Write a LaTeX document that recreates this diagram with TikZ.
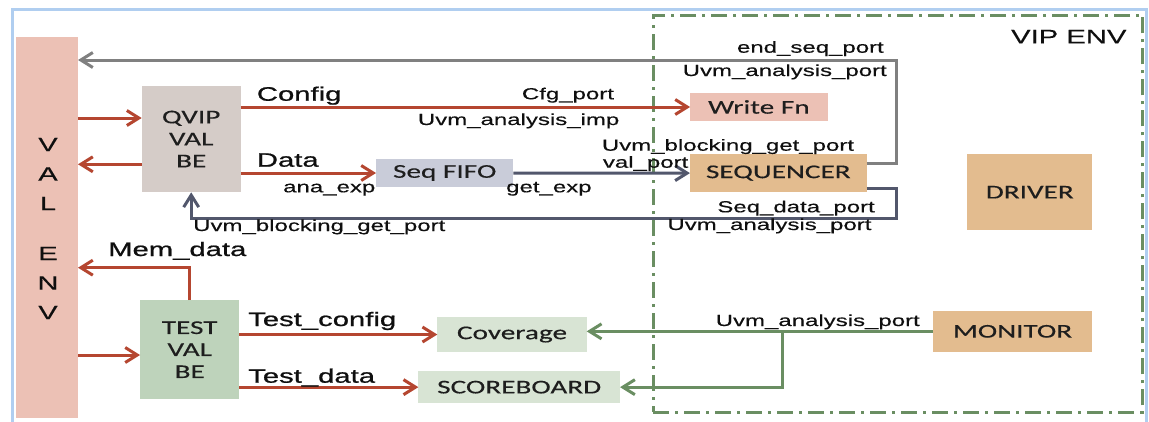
\documentclass[tikz,border=0pt]{standalone}
\usepackage{fontspec}
\setmainfont[FakeStretch=1.5,FakeBold=0.3]{Liberation Sans}
\newfontfamily\sigfont[FakeStretch=1.5,FakeBold=0.9]{Liberation Sans}
\newfontfamily\boxfont[FakeStretch=1.5,FakeBold=0.3]{Carlito}
\usetikzlibrary{arrows.meta,calc}

\definecolor{framecol}{RGB}{176,206,240}
\definecolor{valpink}{RGB}{236,193,181}
\definecolor{qvipcol}{RGB}{213,204,200}
\definecolor{testcol}{RGB}{190,211,187}
\definecolor{lightgrn}{RGB}{216,228,212}
\definecolor{fifocol}{RGB}{201,204,217}
\definecolor{tancol}{RGB}{227,188,143}
\definecolor{redw}{RGB}{181,70,48}
\definecolor{grayw}{RGB}{128,128,128}
\definecolor{slatew}{RGB}{82,87,108}
\definecolor{greenw}{RGB}{106,142,98}
\definecolor{txt}{RGB}{15,15,15}
\definecolor{boxtxt}{RGB}{30,30,30}

\begin{document}
\begin{tikzpicture}[x=1pt,y=-1pt,
  blk/.style={inner sep=0pt, outer sep=0pt, align=center, text=boxtxt,
              font=\boxfont\fontsize{19.5}{22}\selectfont},
  port/.style={inner sep=0pt, text=txt, font=\fontsize{16}{18}\selectfont},
  sig/.style={inner sep=0pt, text=txt, font=\sigfont\fontsize{19.5}{22}\selectfont},
  wire/.style={line width=3pt},
  arr/.style={-{Straight Barb[length=12pt,width=15pt]}}
]
\useasboundingbox (0,0) rectangle (1149,421);
\fill[white] (0,0) rectangle (1149,421);

% window frame
\draw[framecol, line width=3pt] (12,430) -- (12,9) -- (1146,9) -- (1146,430);

% VIP environment boundary
\node[draw=greenw, line width=3pt, dash pattern=on 16pt off 6pt on 3pt off 6pt,
      minimum width=489.4pt, minimum height=397pt, inner sep=0pt] (vip) at (898,213.5) {};
\node[port, font=\fontsize{19.5}{22}\selectfont, anchor=base east] (viplbl) at (1126.7,43.3) {VIP ENV};

% blocks
\node[blk, fill=valpink, minimum width=62pt, minimum height=381pt] (valenv) at (47,227.5) {};
\node[port, align=center, font=\fontsize{19.5}{29.5}\selectfont] (valtxt1) at (48,174) {V\\A\\L};
\node[port, align=center, font=\fontsize{19.5}{29.5}\selectfont] (valtxt2) at (48,283) {E\\N\\V};

\node[blk, fill=qvipcol, minimum width=99pt, minimum height=106.6pt] (qvip) at (191.2,139) {QVIP\\VAL\\BE};
\node[blk, fill=testcol, minimum width=99.3pt, minimum height=99.3pt] (test) at (189.7,349.65) {TEST\\VAL\\BE};
\node[blk, fill=fifocol, minimum width=137.3pt, minimum height=27.4pt] (fifo) at (444.7,173) {Seq FIFO};
\node[blk, fill=valpink, minimum width=137.7pt, minimum height=27.4pt] (wfn) at (758.9,107) {Write Fn};
\node[blk, fill=tancol, minimum width=176.7pt, minimum height=38.3pt] (seq) at (778.3,173.1) {SEQUENCER};
\node[blk, fill=tancol, minimum width=125pt, minimum height=75.7pt] (drv) at (1029.8,192.2) {DRIVER};
\node[blk, fill=tancol, minimum width=159.6pt, minimum height=40.7pt] (mon) at (1012.5,331.35) {MONITOR};
\node[blk, fill=lightgrn, minimum width=149.4pt, minimum height=34.4pt] (cov) at (512,334.5) {Coverage};
\node[blk, fill=lightgrn, minimum width=201.7pt, minimum height=32.3pt] (sb) at (519.2,387.15) {SCOREBOARD};

% helper points on block borders
\coordinate (qin)  at ([yshift=21pt]qvip.west);
\coordinate (qout) at ([yshift=-25.3pt]qvip.west);
\coordinate (tin)  at ([yshift=-5.35pt]test.west);
\coordinate (endy) at (0,60);
\coordinate (memy) at (0,267.7);
\coordinate (seqa) at ([yshift=9.8pt]seq.east);
\coordinate (seqb) at ([yshift=-15pt]seq.east);
\coordinate (br)   at ([xshift=-150.7pt]mon.west);

% red data paths
\draw[wire, redw, arr] (valenv.east |- qin) -- (qin);
\draw[wire, redw, arr] (qout) -- (valenv.east |- qout);
\draw[wire, redw, arr] (qvip.east |- wfn.west) -- (wfn.west);
\draw[wire, redw, arr] (qvip.east |- fifo.west) -- (fifo.west);
\draw[wire, redw, arr] (test.north) |- (valenv.east |- memy);
\draw[wire, redw, arr] (valenv.east |- tin) -- (tin);
\draw[wire, redw, arr] (test.east |- cov.west) -- (cov.west);
\draw[wire, redw, arr] (test.east |- sb.west) -- (sb.west);

% sequencer paths
\draw[wire, slatew, arr] (fifo.east) -- (seq.west);
\draw[wire, grayw, arr] (seqa) -- ++(30,0) |- (valenv.east |- endy);
\draw[wire, slatew, arr] (seqb) -- ++(30,0) -- ++(0,30) -| (qvip.south);

% monitor paths
\draw[wire, greenw, arr] (mon.west) -- (cov.east |- mon.west);
\draw[wire, greenw, arr] (br) |- (sb.east);

% signal labels
\node[sig, anchor=base west] (lcfg)  at (256.7,100.7) {Config};
\node[sig, anchor=base west] (ldata) at (256.7,166.7) {Data};
\node[sig, anchor=base west] (lmem)  at (108,256) {Mem\_data};
\node[sig, anchor=base west] (ltc)   at (248,326) {Test\_config};
\node[sig, anchor=base west] (ltd)   at (248,382.7) {Test\_data};

% port labels
\node[port, anchor=base east] (p1)  at (884,52.7) {end\_seq\_port};
\node[port, anchor=base east] (p2)  at (887,76) {Uvm\_analysis\_port};
\node[port, anchor=base west] (p3)  at (521.7,99.3) {Cfg\_port};
\node[port, anchor=base west] (p4)  at (417.7,125) {Uvm\_analysis\_imp};
\node[port, anchor=base west] (p5)  at (601.7,150.7) {Uvm\_blocking\_get\_port};
\node[port, anchor=base west] (p6)  at (602.7,167.7) {val\_port};
\node[port, anchor=base west] (p7)  at (283,192.3) {ana\_exp};
\node[port, anchor=base west] (p8)  at (506,192.3) {get\_exp};
\node[port, anchor=base east] (p9)  at (875,212.3) {Seq\_data\_port};
\node[port, anchor=base east] (p10) at (871.7,230) {Uvm\_analysis\_port};
\node[port, anchor=base west] (p11) at (193,231) {Uvm\_blocking\_get\_port};
\node[port, anchor=base east] (p12) at (920,326) {Uvm\_analysis\_port};
\end{tikzpicture}
\end{document}
